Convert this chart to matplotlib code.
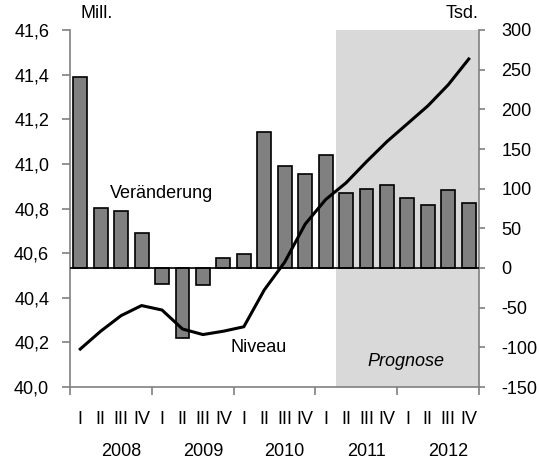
import matplotlib
matplotlib.use("Agg")
import matplotlib.pyplot as plt
import matplotlib.transforms as mtransforms

plt.rcParams['font.family'] = ['Liberation Sans', 'DejaVu Sans']
plt.rcParams['font.size'] = 13
plt.rcParams['axes.unicode_minus'] = False

# data: quarters 2008 Q1 .. 2012 Q4
quarters = ["I", "II", "III", "IV"] * 5
years = ["2008", "2009", "2010", "2011", "2012"]

# Veraenderung in Tsd. (right axis)
veraenderung = [241, 76, 72, 44, -20, -88, -21, 13, 18, 172,
                128, 118, 142, 95, 99, 105, 88, 79, 98, 82]

# Niveau in Mill. (left axis)
niveau = [40.17, 40.25, 40.32, 40.365, 40.345, 40.26, 40.235, 40.25, 40.27, 40.435,
          40.56, 40.73, 40.84, 40.915, 41.01, 41.10, 41.18, 41.26, 41.355, 41.47]

prognose_start = 13  # first forecast quarter (2011 Q2)

gray = "#808080"
x = list(range(len(veraenderung)))

fig = plt.figure(figsize=(5.39, 4.62), dpi=100)
ax = fig.add_axes([70 / 539, 75 / 462, 409 / 539, 357 / 462])
ax2 = ax.twinx()

# shaded forecast area
ax.axvspan(prognose_start - 0.5, len(x) - 0.5, color="#d9d9d9", lw=0, zorder=0)

# bars on the right-hand scale
ax.bar(x, veraenderung, width=0.68, color=gray, edgecolor="black", lw=1.2, zorder=2)
ax.axhline(0, color="black", lw=1.2, zorder=3)
ax.set_xlim(-0.5, len(x) - 0.5)
ax.set_ylim(-150, 300)
ax.set_yticks(range(-150, 301, 50))
ax.yaxis.set_ticks_position("right")
ax.yaxis.set_label_position("right")
ax.tick_params(axis="y", direction="out", length=4, width=1.2, color=gray, pad=12,
               left=False, labelleft=False, right=True, labelright=True)

# year boundary ticks on the x axis
ax.set_xticks([i - 0.5 for i in range(0, len(x) + 1, 4)])
ax.set_xticklabels([])
ax.tick_params(axis="x", direction="out", length=6, width=1.2, color=gray)

ax.spines["top"].set_visible(False)
for s in ["left", "right", "bottom"]:
    ax.spines[s].set_color(gray)
    ax.spines[s].set_linewidth(1.2)

# line on the left-hand scale
ax2.plot(x, niveau, color="black", lw=2.2, zorder=5)
ax2.set_ylim(40.0, 41.6)
ax2.set_yticks([40.0 + 0.2 * i for i in range(9)])
ax2.set_yticklabels([f"{40.0 + 0.2 * i:.1f}".replace(".", ",") for i in range(9)])
ax2.yaxis.set_ticks_position("left")
ax2.tick_params(axis="y", direction="out", length=6, width=1.2, color=gray, pad=9,
                left=True, labelleft=True, right=False, labelright=False)
for s in ["top", "right", "bottom", "left"]:
    ax2.spines[s].set_visible(False)

# quarter and year labels
trans = mtransforms.blended_transform_factory(ax.transData, ax.transAxes)
for i, q in enumerate(quarters):
    ax.text(i, -0.092, q, transform=trans, ha="center", va="center")
for k, y in enumerate(years):
    ax.text(4 * k + 2, -0.18, y, transform=trans, ha="center", va="center")

# annotations
fig.text(80 / 539, 1 - 13 / 462, "Mill.", ha="left", va="center")
fig.text(478 / 539, 1 - 13 / 462, "Tsd.", ha="right", va="center")
fig.text(110 / 539, 1 - 193 / 462, "Veränderung", ha="left", va="center")
fig.text(230 / 539, 1 - 348 / 462, "Niveau", ha="left", va="center")
fig.text(406 / 539, 1 - 361 / 462, "Prognose", ha="center", va="center", style="italic")

fig.savefig("out.png", dpi=100)
